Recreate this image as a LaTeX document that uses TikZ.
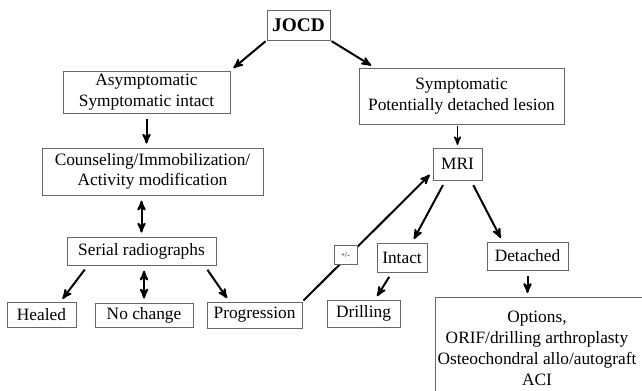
\documentclass[tikz,border=0pt]{standalone}
\usepackage{fontspec}
\setmainfont{Liberation Serif}
\usetikzlibrary{arrows,positioning}

\begin{document}
\begin{tikzpicture}[x=0.75pt,y=-0.75pt,->,>=stealth',line width=1.5pt,shorten >=3pt,shorten <=4pt,on grid,
    box/.style={draw=black!60, line width=0.6pt, inner sep=0pt, align=center, font=\fontsize{13}{15.5}\selectfont},
    pm/.style={draw=black!60, fill=white, line width=0.6pt, inner sep=0pt, minimum width=17.25pt, minimum height=14.25pt, font=\fontsize{5.5}{6}\selectfont} ]

        \useasboundingbox (0,0) rectangle (642,390);
        \clip (0,0) rectangle (642,390);

        \node[box,font=\bfseries\fontsize{14.5}{17}\selectfont,minimum width=47.25pt,minimum height=22.5pt] (jocd) at (298.5,25) {JOCD};
        \node[box,minimum width=125.25pt,minimum height=31.5pt] (asym) [below left=50.25pt and 114pt of jocd] {Asymptomatic\\Symptomatic intact};
        \node[box,minimum width=153.75pt,minimum height=42pt] (symp) [below right=53.25pt and 122.25pt of jocd] {Symptomatic\\Potentially detached lesion};
        \node[box,minimum width=165.75pt,minimum height=35.25pt] (couns) [below=59.6pt of asym,xshift=4.5pt] {Counseling/Immobilization/\\Activity modification};
        \node[box,minimum width=111.75pt,minimum height=21pt] (serial) [below=59.6pt of couns,xshift=-8.25pt] {Serial radiographs};
        \node[box,minimum width=73.5pt,minimum height=18pt] (nochange) [below=48pt of serial,xshift=1.9pt] {No change};
        \node[box,minimum width=51.75pt,minimum height=18.75pt] (healed) [left=76.9pt of nochange] {Healed};
        \node[box,minimum width=71.25pt,minimum height=19.5pt] (progression) [right=82.9pt of nochange] {Progression};
        \node[box,minimum width=36.75pt,minimum height=24pt] (mri) [below=51pt of symp,xshift=-3pt] {MRI};
        \node[box,minimum width=37.5pt,minimum height=21.75pt] (intact) [below left=70.1pt and 41.6pt of mri] {Intact};
        \node[box,minimum width=60.75pt,minimum height=21pt] (detached) [below right=69pt and 52.5pt of mri] {Detached};
        \node[box,minimum width=54.75pt,minimum height=20.25pt] (drilling) [below left=42pt and 28.9pt of intact] {Drilling};
        \node[box,anchor=north west,minimum width=170pt,minimum height=80pt] (optbox) at (435,297) {};
        \node[align=center,font=\fontsize{13}{15.75}\selectfont] (options) [below=69pt of detached,xshift=7.1pt] {Options,\\ORIF/drilling arthroplasty\\Osteochondral allo/autograft\\ACI};

        \draw[shorten <=1pt] (jocd.south west) -- (asym.north east);
        \draw[shorten <=1pt] (jocd.south east) -- ([xshift=12pt]symp.north west);
        \draw (asym) -- (asym |- couns.north);
        \draw[<->] (serial |- couns.south) -- (serial.north);
        \draw ([xshift=16pt]serial.south west) -- ([xshift=14pt]healed.north);
        \draw[<->] (nochange |- serial.south) -- (nochange.north);
        \draw ([xshift=-9pt]serial.south east) -- ([xshift=17pt]progression.north west);
        \draw[shorten <=1pt] (progression.north east) -- node[pm,pos=.33,yshift=3pt] (sign) {+/-} ([yshift=-6pt]mri.west);
        \draw[line width=1.2pt,shorten <=1pt,shorten >=2pt] (mri |- symp.south) -- (mri.north);
        \draw ([xshift=-9pt]mri.south) -- ([xshift=7.5pt]intact.north);
        \draw ([xshift=10pt]mri.south) -- ([xshift=12pt]detached.north west);
        \draw ([xshift=-7.5pt]intact.south) -- ([xshift=8.6pt]drilling.north);
        \draw (detached) -- (detached |- optbox.north);

    \end{tikzpicture}
\end{document}
